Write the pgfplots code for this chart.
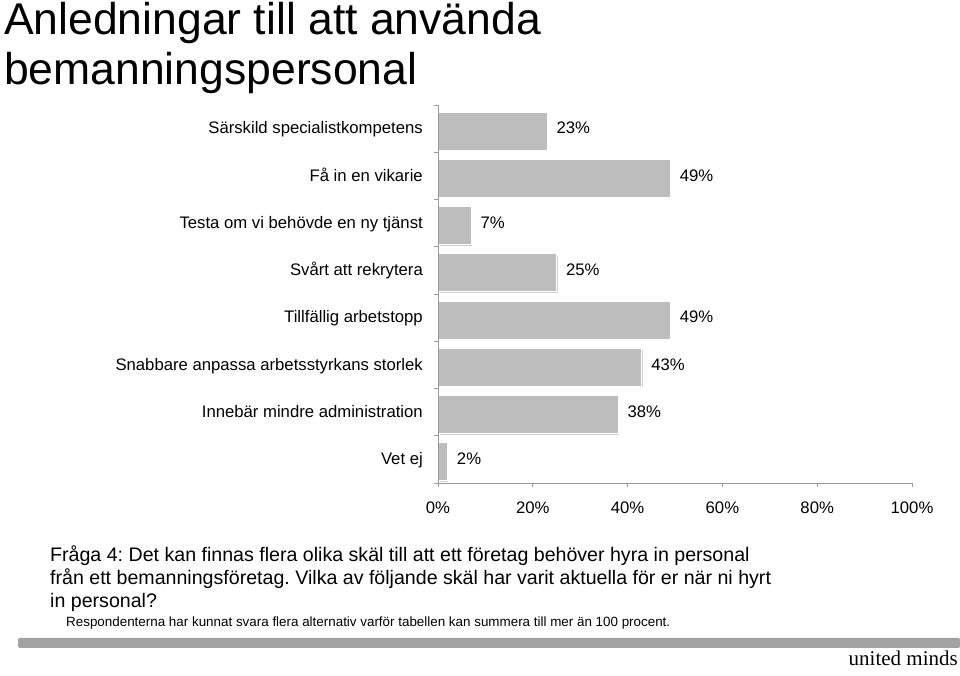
\documentclass[border=0pt]{standalone}
\usepackage{pgfplots}
\pgfplotsset{compat=1.18}
\usepackage{fontspec}
\setmainfont{Liberation Sans}
\newfontfamily\seriffont{Liberation Serif}
\definecolor{barfill}{HTML}{BDBDBD}
\definecolor{axgray}{HTML}{9A9A9A}
\definecolor{bandgray}{HTML}{A2A2A2}
\frenchspacing
\begin{document}
\begin{tikzpicture}
\path[use as bounding box] (0pt,0pt) rectangle (960pt,676pt);
% title
\node[anchor=base west,inner sep=0pt,font=\fontsize{44.5}{50}\selectfont] at (4pt,641pt) {Anledningar till att använda};
\node[anchor=base west,inner sep=0pt,font=\fontsize{44.5}{50}\selectfont] at (4pt,591pt) {bemanningspersonal};
\begin{axis}[
  at={(438pt,193pt)}, anchor=south west,
  scale only axis, width=474pt, height=378pt,
  xmin=0, xmax=100, ymin=-0.5, ymax=7.5,
  y dir=reverse,
  xbar, bar width=38pt, bar shift=-2.5pt,
  axis on top,
  axis x line*=bottom, axis y line*=left,
  axis line style={axgray, line width=0.8pt},
  tick align=outside,
  major tick length=4pt,
  tick style={axgray, line width=0.8pt},
  xtick={0,20,40,60,80,100},
  xticklabels={0\%,20\%,40\%,60\%,80\%,100\%},
  xticklabel style={font=\fontsize{16.7}{20}\selectfont, yshift=-11pt},
  ytick={-0.5,0.5,...,7.5},
  yticklabels={},
  extra y ticks={0,1,2,3,4,5,6,7},
  extra y tick labels={Särskild specialistkompetens, Få in en vikarie, Testa om vi behövde en ny tjänst, Svårt att rekrytera, Tillfällig arbetstopp, Snabbare anpassa arbetsstyrkans storlek, Innebär mindre administration, Vet ej},
  extra y tick style={major tick length=0pt, yticklabel style={font=\fontsize{16.7}{20}\selectfont, anchor=mid east, inner sep=0pt, xshift=-15pt, yshift=-2.5pt}},
  /pgf/number format/assume math mode=true,
  nodes near coords={\pgfmathprintnumber{\pgfplotspointmeta}\%},
  nodes near coords style={font=\fontsize{16.7}{20}\selectfont, anchor=mid west, inner sep=0pt, xshift=9pt, black},
  clip=false,
]
\addplot[fill=barfill, draw=white, line width=1pt,
  preaction={fill=black!18, transform canvas={xshift=1.5pt,yshift=-1.5pt}}]
  coordinates {(23,0) (49,1) (7,2) (25,3) (49,4) (43,5) (38,6) (2,7)};
\end{axis}
% question
\node[anchor=base west,inner sep=0pt,font=\fontsize{19.6}{23}\selectfont] at (50pt,114pt) {Fråga 4: Det kan finnas flera olika skäl till att ett företag behöver hyra in personal};
\node[anchor=base west,inner sep=0pt,font=\fontsize{19.6}{23}\selectfont] at (50pt,91pt) {från ett bemanningsföretag. Vilka av följande skäl har varit aktuella för er när ni hyrt};
\node[anchor=base west,inner sep=0pt,font=\fontsize{19.6}{23}\selectfont] at (50pt,68pt) {in personal?};
\node[anchor=base west,inner sep=0pt,font=\fontsize{13.4}{16}\selectfont] at (66pt,49pt) {Respondenterna har kunnat svara flera alternativ varför tabellen kan summera till mer än 100 procent.};
\fill[bandgray, rounded corners=1.5pt] (18pt,28pt) rectangle (960pt,38pt);
\node[anchor=base east,inner sep=0pt,font=\seriffont\fontsize{21}{24}\selectfont] at (958pt,10pt) {united minds};
\end{tikzpicture}
\end{document}
